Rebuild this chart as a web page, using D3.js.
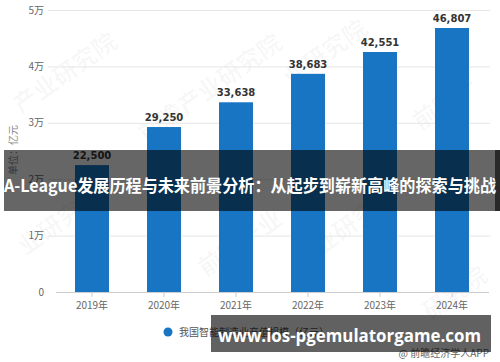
<!DOCTYPE html>
<html>
<head>
<meta charset="utf-8">
<script src="https://cdn.jsdelivr.net/npm/d3@7"></script>
<style>
  html, body { margin: 0; padding: 0; background: #fff; }
  svg { display: block; font-family: "Noto Sans CJK SC", "Noto Sans", sans-serif; }
</style>
</head>
<body>
<svg id="chart" width="500" height="362"></svg>
<script>
const years = ['2019年', '2020年', '2021年', '2022年', '2023年', '2024年'];
const values = [22500, 29250, 33638, 38683, 42551, 46807];
const yTicks = [0, 10000, 20000, 30000, 40000, 50000];
const yTickLabels = ['0', '1万', '2万', '3万', '4万', '5万'];
const seriesName = '我国智能制造业产值规模（亿元）';
const yTitle = '单位：亿元';
const bannerTitle = 'A-League发展历程与未来前景分析：从起步到崭新高峰的探索与挑战';
const bannerUrl = 'www.ios-pgemulatorgame.com';
const sourceText = '@ 前瞻经济学人APP';

const svg = d3.select('#chart');

const x = d3.scaleBand()
  .domain(years)
  .range([56, 488])
  .paddingInner(38 / 72)
  .paddingOuter(19 / 72);

const y = d3.scaleLinear()
  .domain([0, 50000])
  .range([292, 10]);

// faint watermarks
const marks = [
  { x: 70, y: 80, t: '产业研究院' },
  { x: 215, y: 95, t: '前瞻产业研究院' },
  { x: 330, y: 60, t: '业研究院' },
  { x: 450, y: 110, t: '前瞻产' },
  { x: 245, y: 250, t: '前瞻产业' },
  { x: 350, y: 235, t: '产业研究院' },
  { x: 460, y: 300, t: '研究院' },
  { x: 55, y: 235, t: '业研究' }
];
svg.append('g')
  .attr('id', 'watermarks')
  .selectAll('text')
  .data(marks)
  .enter()
  .append('text')
  .attr('transform', d => `translate(${d.x},${d.y}) rotate(-35)`)
  .attr('text-anchor', 'middle')
  .attr('fill', '#000')
  .attr('fill-opacity', 0.035)
  .style('font-size', '24px')
  .style('font-weight', 'bold')
  .text(d => d.t);

// gridlines
svg.append('g')
  .attr('id', 'grid')
  .selectAll('line')
  .data(yTicks.slice(1))
  .enter()
  .append('line')
  .attr('x1', 48)
  .attr('x2', 490)
  .attr('y1', d => y(d) + 0.5)
  .attr('y2', d => y(d) + 0.5)
  .attr('stroke', '#e6e6e6')
  .attr('stroke-width', 1);

// y tick labels
svg.append('g')
  .attr('id', 'yAxis')
  .selectAll('text')
  .data(yTicks)
  .enter()
  .append('text')
  .attr('x', 44)
  .attr('y', d => y(d))
  .attr('dy', '0.35em')
  .attr('text-anchor', 'end')
  .attr('fill', '#666')
  .style('font-size', '10px')
  .text((d, i) => yTickLabels[i]);

svg.append('text')
  .attr('transform', 'translate(13,150) rotate(-90)')
  .attr('text-anchor', 'middle')
  .attr('dy', '0.35em')
  .attr('fill', '#888')
  .style('font-size', '10px')
  .text(yTitle);

// bars
svg.append('g')
  .attr('id', 'bars')
  .selectAll('rect')
  .data(values)
  .enter()
  .append('rect')
  .attr('x', (d, i) => x(years[i]))
  .attr('y', d => y(d))
  .attr('width', x.bandwidth())
  .attr('height', d => y(0) - y(d))
  .attr('fill', '#1775c4');

// value labels
svg.append('g')
  .attr('id', 'labels')
  .selectAll('text')
  .data(values)
  .enter()
  .append('text')
  .attr('x', (d, i) => x(years[i]) + x.bandwidth() / 2)
  .attr('y', d => y(d) - 6)
  .attr('text-anchor', 'middle')
  .attr('fill', '#333')
  .style('font-size', '10px')
  .style('font-weight', 'bold')
  .style('font-family', '"DejaVu Sans", sans-serif')
  .text(d => d3.format(',')(d));

// x axis
const xAxis = svg.append('g')
  .attr('id', 'xAxis')
  .attr('transform', `translate(0,${y(0)})`);

xAxis.append('line')
  .attr('x1', 56)
  .attr('x2', 489)
  .attr('y1', 0.5)
  .attr('y2', 0.5)
  .attr('stroke', '#ccc');

xAxis.selectAll('line.tick')
  .data(years)
  .enter()
  .append('line')
  .attr('class', 'tick')
  .attr('x1', d => x(d) + x.bandwidth() / 2)
  .attr('x2', d => x(d) + x.bandwidth() / 2)
  .attr('y1', 0)
  .attr('y2', 5)
  .attr('stroke', '#ccc');

xAxis.selectAll('text')
  .data(years)
  .enter()
  .append('text')
  .attr('x', d => x(d) + x.bandwidth() / 2)
  .attr('y', 13)
  .attr('dy', '0.35em')
  .attr('text-anchor', 'middle')
  .attr('fill', '#666')
  .style('font-size', '10px')
  .text(d => d);

// legend
const legend = svg.append('g')
  .attr('id', 'legend')
  .attr('transform', 'translate(168,332)');

legend.append('circle')
  .attr('r', 4.5)
  .attr('fill', '#1775c4');

legend.append('text')
  .attr('x', 11)
  .attr('dy', '0.35em')
  .attr('fill', '#555')
  .style('font-size', '10px')
  .text(seriesName);

// source
svg.append('text')
  .attr('x', 489)
  .attr('y', 353)
  .attr('dy', '0.35em')
  .attr('text-anchor', 'end')
  .attr('fill', '#666')
  .style('font-size', '10px')
  .text(sourceText);

// overlay banners
const mid = svg.append('g').attr('id', 'midBanner');
mid.append('rect')
  .attr('x', 4)
  .attr('y', 150)
  .attr('width', 496)
  .attr('height', 61)
  .attr('fill', '#000')
  .attr('fill-opacity', 0.6);
mid.append('rect')
  .attr('x', 495)
  .attr('y', 150)
  .attr('width', 5)
  .attr('height', 61)
  .attr('fill', '#000')
  .attr('fill-opacity', 0.6);
mid.append('text')
  .attr('x', 4)
  .attr('y', 186)
  .attr('dy', '0.35em')
  .attr('fill', '#fff')
  .attr('textLength', 492)
  .attr('lengthAdjust', 'spacingAndGlyphs')
  .style('font-size', '17px')
  .style('font-weight', 'bold')
  .text(bannerTitle);

const bottom = svg.append('g').attr('id', 'urlBanner');
bottom.append('rect')
  .attr('x', 211)
  .attr('y', 315)
  .attr('width', 280)
  .attr('height', 37)
  .attr('fill', '#000')
  .attr('fill-opacity', 0.62);
bottom.append('text')
  .attr('x', 218)
  .attr('y', 336)
  .attr('dy', '0.35em')
  .attr('fill', '#fff')
  .attr('textLength', 263)
  .attr('lengthAdjust', 'spacingAndGlyphs')
  .style('font-size', '18px')
  .style('font-weight', 'bold')
  .style('font-family', '"Open Sans", "DejaVu Sans", sans-serif')
  .text(bannerUrl);
</script>
</body>
</html>
